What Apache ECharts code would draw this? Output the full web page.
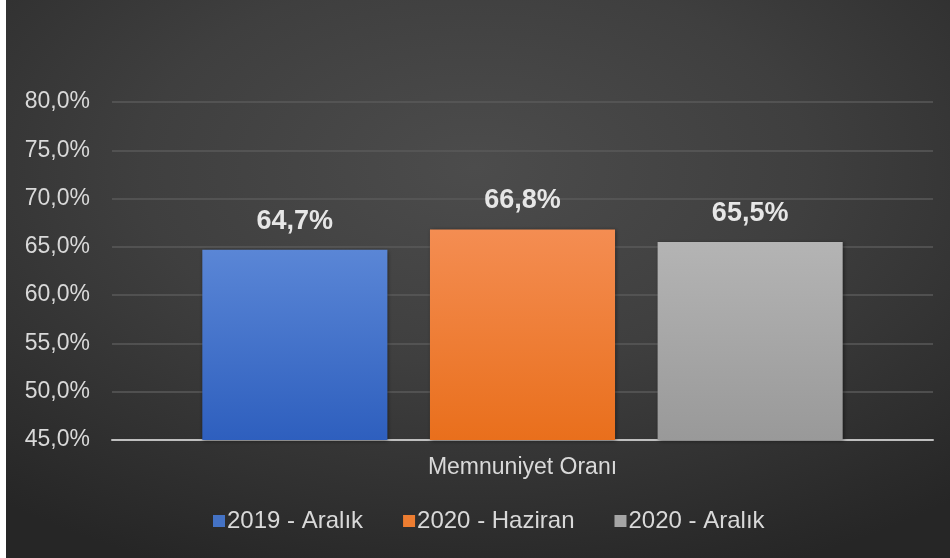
<!DOCTYPE html>
<html>
<head>
<meta charset="utf-8">
<script src="https://cdn.jsdelivr.net/npm/echarts@6/dist/echarts.min.js"></script>
<style>
  html, body { margin: 0; padding: 0; background: #2a2a2a; }
  #chart { width: 950px; height: 558px; }
</style>
</head>
<body>
<div id="chart"></div>
<script>
// veriler
var categories = ['Memnuniyet Oranı'];
var seriesNames = ['2019 - Aralık', '2020 - Haziran', '2020 - Aralık'];
var values2019Aralik = [64.7];
var values2020Haziran = [66.8];
var values2020Aralik = [65.5];
var yTicks = [45, 50, 55, 60, 65, 70, 75, 80];

var textColor = '#d9d9d9';
var font = 'Liberation Sans, Arial, sans-serif';

function pct(v) {
  return v.toFixed(1).replace('.', ',') + '%';
}

function grad(top, bottom) {
  return new echarts.graphic.LinearGradient(0, 0, 0, 1, [
    { offset: 0, color: top },
    { offset: 1, color: bottom }
  ]);
}

function makeSeries(name, data, top, bottom) {
  return {
    name: name,
    type: 'bar',
    data: data,
    barGap: '23%',
    barCategoryGap: '22%',
    itemStyle: {
      color: grad(top, bottom),
      shadowBlur: 4,
      shadowColor: 'rgba(0,0,0,0.45)',
      shadowOffsetX: 1,
      shadowOffsetY: 1
    },
    label: {
      show: true,
      position: 'top',
      distance: 15,
      color: '#e6e6e6',
      fontSize: 27,
      fontWeight: 'bold',
      fontFamily: font,
      formatter: function (p) { return pct(p.value); }
    }
  };
}

var chart = echarts.init(document.getElementById('chart'));
var option = {
  backgroundColor: '#2a2a2a',
  animation: false,
  graphic: [
    {
      type: 'rect',
      z: -100,
      silent: true,
      scaleX: 950 / 558,
      shape: { x: 0, y: 0, width: 558, height: 558 },
      style: {
        fill: new echarts.graphic.RadialGradient(0.5, 0.3, 0.78, [
          { offset: 0, color: '#4c4c4c' },
          { offset: 0.45, color: '#3f3f3f' },
          { offset: 1, color: '#262626' }
        ])
      }
    },
    {
      type: 'rect',
      z: 100,
      silent: true,
      shape: { x: 0, y: 0, width: 6, height: 558 },
      style: { fill: '#ffffff' }
    }
  ],
  grid: { left: 112, right: 17, top: 102, bottom: 118, containLabel: false },
  legend: {
    top: 509,
    left: 213,
    padding: 0,
    itemWidth: 12,
    itemHeight: 12,
    itemGap: 40,
    icon: 'rect',
    textStyle: {
      color: textColor,
      fontSize: 24,
      fontFamily: font,
      padding: [0, 0, 0, -3]
    },
    data: [
      { name: seriesNames[0], itemStyle: { color: '#4472c4' } },
      { name: seriesNames[1], itemStyle: { color: '#ed7d31' } },
      { name: seriesNames[2], itemStyle: { color: '#a5a5a5' } }
    ]
  },
  xAxis: {
    type: 'category',
    data: categories,
    axisLine: { lineStyle: { color: '#bfbfbf', width: 2 } },
    axisTick: { show: false },
    axisLabel: {
      color: textColor,
      fontSize: 23,
      margin: 16,
      fontFamily: font
    }
  },
  yAxis: {
    type: 'value',
    min: yTicks[0],
    max: yTicks[yTicks.length - 1],
    interval: 5,
    axisLine: { show: false },
    axisTick: { show: false },
    splitLine: { lineStyle: { color: '#5a5a5a', width: 1.5 } },
    axisLabel: {
      color: textColor,
      fontSize: 23,
      margin: 22,
      fontFamily: font,
      formatter: function (v) { return pct(v); }
    }
  },
  series: [
    makeSeries(seriesNames[0], values2019Aralik, '#5a86d6', '#2e5fbe'),
    makeSeries(seriesNames[1], values2020Haziran, '#f48d52', '#e96f1c'),
    makeSeries(seriesNames[2], values2020Aralik, '#b4b4b4', '#999999')
  ]
};
chart.setOption(option);
</script>
</body>
</html>
